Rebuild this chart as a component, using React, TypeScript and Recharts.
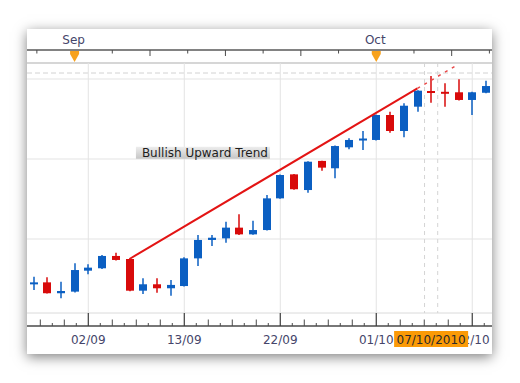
import React from 'react';
import { ComposedChart, XAxis, YAxis, Bar, Line, ReferenceLine, ReferenceDot } from 'recharts';

// ---- data ----
const dates = ['27/08','30/08','31/08','01/09','02/09','03/09','06/09','07/09','08/09','09/09','10/09','13/09','14/09','15/09','16/09','17/09','20/09','21/09','22/09','23/09','24/09','27/09','28/09','29/09','30/09','01/10','04/10','05/10','06/10','07/10','08/10','11/10','12/10','13/10'];
const opens = [1.2717,1.2729,1.2661,1.2671,1.2802,1.2817,1.2894,1.2875,1.2677,1.2717,1.2692,1.2706,1.2879,1.2994,1.3004,1.3071,1.3029,1.3056,1.3254,1.3404,1.3306,1.3488,1.3442,1.3573,1.3619,1.3619,1.3775,1.3675,1.3827,1.3925,1.3920,1.3917,1.3869,1.3914];
const closes = [1.2729,1.2661,1.2675,1.2806,1.2821,1.2894,1.2869,1.2677,1.2717,1.2692,1.2713,1.2879,1.2994,1.3008,1.3071,1.3029,1.3056,1.3254,1.3400,1.3311,1.3483,1.3446,1.3581,1.3619,1.3628,1.3775,1.3675,1.3833,1.3927,1.3916,1.3914,1.3869,1.3917,1.3956];
const highs = [1.2764,1.2761,1.2733,1.2848,1.2842,1.2900,1.2914,1.2878,1.2754,1.2754,1.2744,1.2886,1.3025,1.3025,1.3108,1.3154,1.3114,1.3275,1.3403,1.3406,1.3486,1.3489,1.3584,1.3629,1.3675,1.3778,1.3796,1.3848,1.3930,1.4019,1.3973,1.3998,1.3920,1.3989];
const lows = [1.2681,1.2659,1.2629,1.2666,1.2779,1.2813,1.2866,1.2674,1.2656,1.2664,1.2646,1.2703,1.2831,1.2956,1.2977,1.3025,1.3026,1.3053,1.3251,1.3308,1.3289,1.3427,1.3379,1.3561,1.3556,1.3616,1.3664,1.3636,1.3796,1.3852,1.3827,1.3866,1.3775,1.3911];

const trendIdx = [7, 28];
const trendVal = [1.2875, 1.3941];
const extIdx = [28, 30.75];
const extVal = [1.3941, 1.4080];

const priceGrid = [1.30, 1.35, 1.40];
const majorIdx = [4, 11, 18, 25, 32];
const minorTicks = [0.5,1.375,2.25,3.125,4,4.875,5.75,6.625,7.5,8.375,9.25,10.125,11,11.875,12.75,13.625,14.5,15.375,16.25,17.125,18,18.875,19.75,20.625,21.5,22.375,23.25,24.125,25,25.875,26.75,27.625,28.5,29.375,30.25,31.125,32,32.875];
const topTicks = [0.25,3,5.75,8.5,11.25,14,16.75,19.5,22.25,25,27.75,30.5,33.25];
const monthIdx = [3, 25];
const monthLabels = ['Sep', 'Oct'];

const cursorIndex = 29;
const cursorLabel = '07/10/2010';
const cursorHalf = 0.48;

const annotationText = 'Bullish Upward Trend';
const annotationX = 12.36;
const annotationY = 1.3539;

const X_DOMAIN: [number, number] = [-0.47, 33.44];
const Y_DOMAIN: [number, number] = [1.245625, 1.418125];
const stripTop = 1.41;
const stripBottom = 1.25375;
const dashedLevel = 1.40375;

const BLUE = '#0b5fc2';
const RED = '#d80a0a';
const FONT = 'DejaVu Sans, Verdana, sans-serif';
const LABEL = '#45456a';

const rows = dates.map((d, i) => ({
  i,
  date: d,
  open: opens[i],
  close: closes[i],
  high: highs[i],
  low: lows[i],
  range: [lows[i], highs[i]],
}));
const trendData = trendIdx.map((x, k) => ({ i: x, v: trendVal[k] }));
const extData = extIdx.map((x, k) => ({ i: x, v: extVal[k] }));

const Candle = (props: any) => {
  const { x, y, width, height, payload } = props;
  if (x == null || y == null) return <g />;
  const { open, close, high, low } = payload;
  const cx = Math.round(x + width / 2);
  const py = (p: number) => y + ((high - p) / (high - low)) * height;
  const up = close >= open;
  const color = up ? BLUE : RED;
  const top = py(Math.max(open, close));
  const bot = py(Math.min(open, close));
  const bh = Math.max(bot - top, 2);
  return (
    <g>
      <line x1={cx} x2={cx} y1={y} y2={y + height} stroke={color} strokeWidth={1.5} />
      <rect x={cx - 4} y={top} width={8} height={bh} fill={color} />
    </g>
  );
};

const TopTick = (props: any) => {
  const { x, y, payload } = props;
  const v = payload.value;
  const m = monthIdx.indexOf(v);
  if (m >= 0) {
    return (
      <g>
        <path d={`M${x - 4.5},${y + 1} L${x + 4.5},${y + 1} L${x + 4.5},${y + 4} L${x},${y + 12} L${x - 4.5},${y + 4} Z`} fill="#f7a21e" />
        <text x={x - 1} y={y - 6} textAnchor="middle" fontFamily={FONT} fontSize={12} fill={LABEL}>{monthLabels[m]}</text>
      </g>
    );
  }
  const idx = topTicks.indexOf(v);
  const long = idx % 2 === 1;
  return <line x1={x} x2={x} y1={y} y2={y + (long ? 6 : 3.5)} stroke="#4a4a4a" strokeWidth={1} />;
};

const BottomTick = (props: any) => {
  const { x, y, payload } = props;
  const v = payload.value;
  if (v === cursorIndex) {
    return (
      <g>
        <rect x={x - 37} y={y + 5} width={74} height={16} fill="#fb9a06" />
        <text x={x} y={y + 18} textAnchor="middle" fontFamily={FONT} fontSize={12} fill="#2a2a2a">{cursorLabel}</text>
      </g>
    );
  }
  if (majorIdx.indexOf(v) >= 0) {
    return (
      <g>
        <line x1={x} x2={x} y1={y - 13} y2={y} stroke="#3c3c3c" strokeWidth={1.2} />
        <text x={x} y={y + 18} textAnchor="middle" fontFamily={FONT} fontSize={12} fill={LABEL}>{dates[v]}</text>
      </g>
    );
  }
  const idx = minorTicks.indexOf(v);
  const tall = idx % 2 === 0;
  return <line x1={x} x2={x} y1={y - (tall ? 6.5 : 3)} y2={y} stroke="#4a4a4a" strokeWidth={1} />;
};

const Annotation = (props: any) => {
  const { cx, cy } = props;
  if (cx == null || cy == null) return <g />;
  return (
    <g>
      <defs>
        <linearGradient id="annGrad" x1="0" y1="0" x2="0" y2="1">
          <stop offset="0" stopColor="#ededed" />
          <stop offset="1" stopColor="#c6c6c6" />
        </linearGradient>
      </defs>
      <rect x={cx - 67} y={cy - 6} width={134} height={12} fill="url(#annGrad)" />
      <text x={cx + 2} y={cy + 4.3} textAnchor="middle" fontFamily={FONT} fontSize={12} fill="#1e1e1e">{annotationText}</text>
    </g>
  );
};

export default function App() {
  const bottomTicks = [...minorTicks, cursorIndex];
  return (
    <div style={{ position: 'absolute', left: 0, top: 0, width: 520, height: 383, background: '#fff', overflow: 'hidden' }}>
      <div style={{ position: 'absolute', left: 27, top: 29, width: 465, height: 325, background: '#fff', boxShadow: '0 3px 12px rgba(0,0,0,0.5)' }} />
      <div style={{ position: 'absolute', left: 0, top: 0 }}>
        <ComposedChart width={520} height={383} data={rows} margin={{ top: 30, right: 28, bottom: 27, left: 27 }}>
          <XAxis xAxisId="top" orientation="top" dataKey="i" type="number" domain={X_DOMAIN} allowDataOverflow ticks={topTicks} interval={0}
            height={20} tickSize={0} tickMargin={0} tickLine={false} axisLine={{ stroke: '#585858', strokeWidth: 1.5 }}
            tick={(p: any) => <TopTick {...p} />} />
          <XAxis xAxisId="bottom" orientation="bottom" dataKey="i" type="number" domain={X_DOMAIN} allowDataOverflow ticks={bottomTicks} interval={0}
            height={30} tickSize={0} tickMargin={0} tickLine={false} axisLine={{ stroke: '#4a4a4a', strokeWidth: 1.5 }}
            tick={(p: any) => <BottomTick {...p} />} />
          <XAxis xAxisId="x" dataKey="i" type="number" domain={X_DOMAIN} allowDataOverflow hide height={0} />
          <XAxis xAxisId="t" dataKey="i" type="number" domain={X_DOMAIN} allowDataOverflow hide height={0} />
          <YAxis yAxisId="p" type="number" domain={Y_DOMAIN} allowDataOverflow hide width={0} />

          {priceGrid.map((p) => (
            <ReferenceLine key={'h' + p} xAxisId="x" yAxisId="p" y={p} stroke="#e3e3e3" strokeWidth={1} zIndex={-100} />
          ))}
          <ReferenceLine xAxisId="x" yAxisId="p" y={stripTop} stroke="#d6d6d6" strokeWidth={2} zIndex={-100} />
          <ReferenceLine xAxisId="x" yAxisId="p" y={stripBottom} stroke="#dadada" strokeWidth={1} zIndex={-100} />
          <ReferenceLine xAxisId="x" yAxisId="p" y={dashedLevel} stroke="#d2d2d2" strokeDasharray="5 3" zIndex={-100} />
          {majorIdx.map((v) => (
            <ReferenceLine key={'v' + v} xAxisId="x" yAxisId="p" segment={[{ x: v, y: stripTop }, { x: v, y: stripBottom }]} stroke="#e3e3e3" zIndex={-100} />
          ))}
          {[cursorIndex - cursorHalf, cursorIndex + cursorHalf].map((v) => (
            <ReferenceLine key={'c' + v} xAxisId="x" yAxisId="p" segment={[{ x: v, y: stripTop }, { x: v, y: stripBottom }]} stroke="#d4d4d4" strokeDasharray="4 4" zIndex={-100} />
          ))}

          <Bar xAxisId="x" yAxisId="p" dataKey="range" barSize={8} shape={(p: any) => <Candle {...p} />} isAnimationActive={false} />
          <Line xAxisId="t" yAxisId="p" data={trendData} dataKey="v" stroke="#e31414" strokeWidth={2} dot={false} activeDot={false} isAnimationActive={false} />
          <Line xAxisId="t" yAxisId="p" data={extData} dataKey="v" stroke="#e84a4a" strokeWidth={1.5} strokeDasharray="3 5" dot={false} activeDot={false} isAnimationActive={false} />
          <ReferenceDot xAxisId="x" yAxisId="p" x={annotationX} y={annotationY} r={1} shape={(p: any) => <Annotation {...p} />} />
        </ComposedChart>
      </div>
    </div>
  );
}
